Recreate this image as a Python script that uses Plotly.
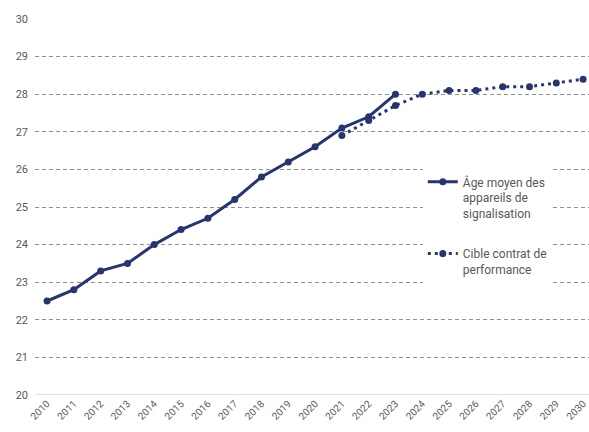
import plotly.graph_objects as go

years_main = [2010, 2011, 2012, 2013, 2014, 2015, 2016, 2017, 2018, 2019, 2020, 2021, 2022, 2023]
age_main = [22.5, 22.8, 23.3, 23.5, 24.0, 24.4, 24.7, 25.2, 25.8, 26.2, 26.6, 27.1, 27.4, 28.0]

years_target = [2021, 2022, 2023, 2024, 2025, 2026, 2027, 2028, 2029, 2030]
age_target = [26.9, 27.3, 27.7, 28.0, 28.1, 28.1, 28.2, 28.2, 28.3, 28.4]

x_ticks = list(range(2010, 2031))
y_ticks = list(range(20, 31))

navy = "#263572"
grey_text = "#595959"

fig = go.Figure()
fig.add_trace(go.Scatter(
    x=years_main, y=age_main, mode="lines+markers",
    name="Âge moyen des<br>appareils de<br>signalisation",
    legendgroup="a",
    line=dict(color=navy, width=3),
    marker=dict(color=navy, size=7),
))
fig.add_trace(go.Scatter(
    x=years_target, y=age_target, mode="lines+markers",
    name="Cible contrat de<br>performance",
    legendgroup="b",
    line=dict(color=navy, width=3, dash="3px,4px"),
    marker=dict(color=navy, size=7),
))

fig.update_layout(
    width=589, height=432,
    margin=dict(l=35, r=0, t=19, b=37),
    paper_bgcolor="white", plot_bgcolor="white",
    font=dict(family="Roboto", color=grey_text, size=11),
    legend=dict(
        x=0.70, y=0.605, xanchor="left", yanchor="top",
        bgcolor="white", font=dict(size=12, color=grey_text),
        valign="top", tracegroupgap=22, itemwidth=30,
        traceorder="grouped",
    ),
    xaxis=dict(
        range=[2009.55, 2030.22], tickmode="array", tickvals=x_ticks,
        ticktext=[str(v) for v in x_ticks], tickangle=-45,
        showgrid=False, zeroline=False, showline=False,
        tickfont=dict(size=10, color=grey_text),
    ),
    yaxis=dict(
        range=[20, 30], tickmode="array", tickvals=y_ticks,
        showgrid=True, gridcolor="#8f8f8f", griddash="4px,3px", gridwidth=1,
        zeroline=False, showline=False,
        tickfont=dict(size=11, color=grey_text), ticklabelstandoff=6,
    ),
)
fig.add_hline(y=20, line=dict(color="#d9d9d9", width=1.5))

fig.write_html("out.html")
